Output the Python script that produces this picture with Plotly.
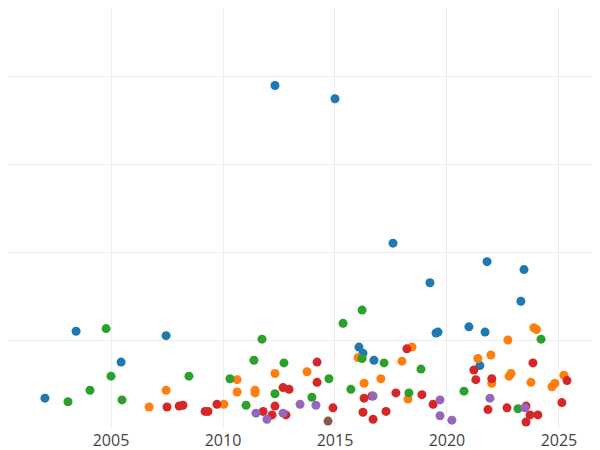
import plotly.graph_objects as go

blue_x=[2002.05,2003.44,2005.45,2007.46,2012.32,2015.0,2016.07,2016.25,2016.74,2017.59,2019.24,2019.51,2019.6,2020.98,2021.47,2021.7,2021.79,2023.3,2023.44]
blue_y=[0.35,1.11,0.76,1.06,3.90,3.75,0.93,0.86,0.78,2.11,1.66,1.09,1.10,1.16,0.72,1.10,1.90,1.45,1.81]
orange_x=[2006.7,2007.46,2010.04,2010.63,2010.63,2011.43,2011.43,2012.32,2013.75,2016.03,2016.3,2017.05,2017.99,2018.26,2018.44,2021.38,2021.96,2022.0,2022.72,2022.77,2022.86,2023.75,2023.88,2024.0,2024.69,2024.82,2025.22]
orange_y=[0.25,0.44,0.28,0.56,0.42,0.44,0.41,0.63,0.65,0.81,0.52,0.57,0.77,0.34,0.93,0.80,0.84,0.52,1.01,0.60,0.63,0.53,1.15,1.13,0.48,0.52,0.61]
green_x=[2003.08,2004.06,2004.78,2005.0,2005.49,2008.48,2010.31,2011.03,2011.38,2011.74,2012.32,2012.72,2013.97,2014.73,2015.36,2015.71,2016.21,2016.21,2017.19,2018.3,2018.84,2020.76,2023.17,2024.2]
green_y=[0.31,0.44,1.14,0.60,0.33,0.60,0.57,0.27,0.78,1.02,0.40,0.75,0.36,0.57,1.20,0.45,1.35,0.80,0.75,0.41,0.68,0.43,0.23,1.02]
red_x=[2007.5,2008.04,2008.21,2009.2,2009.33,2009.73,2011.79,2012.19,2012.32,2012.68,2012.95,2012.81,2014.2,2014.2,2014.91,2016.25,2016.3,2016.65,2016.7,2017.28,2017.72,2018.21,2018.88,2019.38,2021.2,2021.29,2021.83,2022.0,2022.68,2023.53,2023.53,2023.71,2023.84,2024.06,2025.13,2025.36]
red_y=[0.25,0.26,0.27,0.20,0.20,0.28,0.20,0.16,0.26,0.47,0.45,0.16,0.76,0.53,0.24,0.19,0.35,0.375,0.11,0.20,0.41,0.91,0.39,0.28,0.67,0.56,0.22,0.57,0.24,0.26,0.08,0.16,0.75,0.16,0.30,0.55]
purple_x=[2011.47,2011.96,2012.68,2013.44,2014.15,2016.7,2019.69,2019.69,2020.22,2021.92,2023.48]
purple_y=[0.18,0.11,0.18,0.28,0.27,0.375,0.33,0.15,0.10,0.35,0.24]
brown_x=[2014.69]
brown_y=[0.09]

series=[(blue_x,blue_y,"#1f77b4"),(orange_x,orange_y,"#ff7f0e"),(green_x,green_y,"#2ca02c"),
        (red_x,red_y,"#d62728"),(purple_x,purple_y,"#9467bd"),(brown_x,brown_y,"#8c564b")]
fig=go.Figure()
for x,y,c in series:
    fig.add_trace(go.Scatter(x=x,y=y,mode="markers",marker=dict(color=c,size=9),showlegend=False))
fig.update_layout(width=600,height=450,margin=dict(l=0,r=0,t=0,b=29),
    plot_bgcolor="white",paper_bgcolor="white",font=dict(family="Open Sans",size=16,color="#444"))
fig.update_xaxes(range=[2000.40,2027.19],tickvals=[2005,2010,2015,2020,2025],showgrid=True,gridcolor="#eeeeee",zeroline=False,ticks="")
fig.update_yaxes(range=[0,4.78],dtick=1,showticklabels=False,showgrid=True,gridcolor="#eeeeee",zeroline=False)
fig.write_html("out.html")
